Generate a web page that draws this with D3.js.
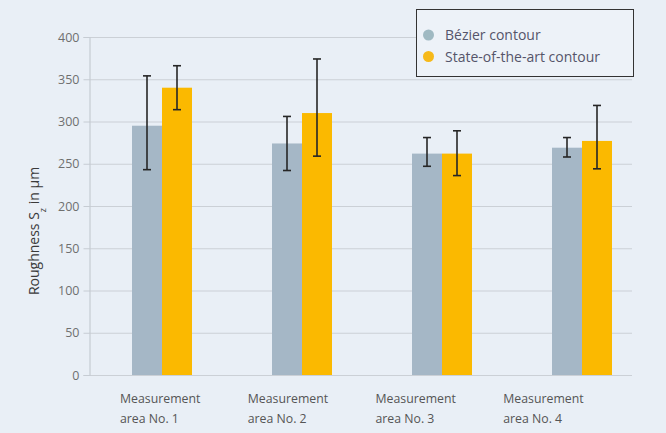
<!DOCTYPE html>
<html>
<head>
<meta charset="utf-8">
<script src="https://cdn.jsdelivr.net/npm/d3@7/dist/d3.min.js"></script>
<style>
  html, body { margin: 0; padding: 0; background: #e9eff6; }
  svg { display: block; }
  text { font-family: "Open Sans", "Noto Sans", sans-serif; }
</style>
</head>
<body>
<svg id="chart" width="666" height="433"></svg>
<script>
// Measurement areas and the two contour strategies
const categories = ["Measurement area No. 1", "Measurement area No. 2", "Measurement area No. 3", "Measurement area No. 4"];
const categoryLines = [["Measurement", "area No. 1"], ["Measurement", "area No. 2"], ["Measurement", "area No. 3"], ["Measurement", "area No. 4"]];
const seriesNames = ["Bézier contour", "State-of-the-art contour"];

// Mean roughness Sz (µm) per area
const bezierMean = [295, 274, 262, 269];
const stateMean = [340, 310, 262, 277];

// Error bar extents (lower, upper) in µm
const bezierLow = [243, 242, 247, 258];
const bezierHigh = [354, 306, 281, 281];
const stateLow = [314, 259, 236, 244];
const stateHigh = [366, 374, 289, 319];

const yTicks = [0, 50, 100, 150, 200, 250, 300, 350, 400];

const colors = ["#a5b7c6", "#fbb900"];

const svg = d3.select("#chart");

const plotLeft = 89, plotRight = 632, plotTop = 37, plotBottom = 375;

const y = d3.scaleLinear().domain([0, 400]).range([plotBottom, plotTop]);

const x0 = d3.scaleBand().domain(categories).range([92, 652])
  .paddingInner(80 / 140).paddingOuter(40 / 140);
const x1 = d3.scaleBand().domain(seriesNames).range([0, x0.bandwidth()]);

// Category labels sit on their own, tighter band scale
const xl = d3.scaleBand().domain(categories).range([120, 631]);

// Horizontal gridlines
svg.append("g")
  .selectAll("line")
  .data(yTicks)
  .join("line")
  .attr("x1", plotLeft).attr("x2", plotRight)
  .attr("y1", d => y(d) + 0.5).attr("y2", d => y(d) + 0.5)
  .attr("stroke", "#cbd0d6").attr("stroke-width", 1.2);

// Y axis with outward ticks
const yAxis = d3.axisLeft(y).tickValues(yTicks).tickSize(6).tickPadding(4);
const gy = svg.append("g").attr("transform", `translate(${plotLeft + 0.5},0)`).call(yAxis);
gy.select(".domain").attr("stroke", "#c6ccd3").attr("stroke-width", 1.2);
gy.selectAll(".tick line").attr("stroke", "#c6ccd3");
gy.selectAll(".tick text")
  .attr("fill", "#6f6f6f")
  .style("font-size", "12.5px")
  .style("font-family", "'Open Sans', sans-serif");

// Y axis title with subscript
const yTitle = svg.append("text")
  .attr("transform", "translate(39,231) rotate(-90)")
  .attr("text-anchor", "middle")
  .attr("fill", "#3a3a3a")
  .style("font-size", "14px");
yTitle.append("tspan").text("Roughness S");
yTitle.append("tspan").attr("baseline-shift", "sub").style("font-size", "9px").text("z");
yTitle.append("tspan").text(" in µm");

// Bars
const rows = categories.map((c, i) => ({
  cat: c,
  vals: [
    { s: seriesNames[0], v: bezierMean[i], lo: bezierLow[i], hi: bezierHigh[i], k: 0 },
    { s: seriesNames[1], v: stateMean[i], lo: stateLow[i], hi: stateHigh[i], k: 1 }
  ]
}));

const groups = svg.append("g").selectAll("g")
  .data(rows)
  .join("g")
  .attr("transform", d => `translate(${x0(d.cat)},0)`);

groups.selectAll("rect")
  .data(d => d.vals)
  .join("rect")
  .attr("x", d => x1(d.s))
  .attr("width", x1.bandwidth())
  .attr("y", d => y(d.v))
  .attr("height", d => y(0) - y(d.v))
  .attr("fill", d => colors[d.k]);

// Error bars
const capHalf = 4;
const eb = groups.selectAll("g.err")
  .data(d => d.vals)
  .join("g")
  .attr("class", "err")
  .attr("stroke", "#262626")
  .attr("stroke-width", 1.6);
eb.append("line")
  .attr("x1", d => x1(d.s) + x1.bandwidth() / 2).attr("x2", d => x1(d.s) + x1.bandwidth() / 2)
  .attr("y1", d => y(d.lo)).attr("y2", d => y(d.hi));
eb.append("line")
  .attr("x1", d => x1(d.s) + x1.bandwidth() / 2 - capHalf).attr("x2", d => x1(d.s) + x1.bandwidth() / 2 + capHalf)
  .attr("y1", d => y(d.hi)).attr("y2", d => y(d.hi));
eb.append("line")
  .attr("x1", d => x1(d.s) + x1.bandwidth() / 2 - capHalf).attr("x2", d => x1(d.s) + x1.bandwidth() / 2 + capHalf)
  .attr("y1", d => y(d.lo)).attr("y2", d => y(d.lo));

// Category labels, two lines, left aligned
const labels = svg.append("g").selectAll("text")
  .data(categories)
  .join("text")
  .attr("fill", "#555")
  .style("font-size", "12.3px");
labels.each(function (c, i) {
  const t = d3.select(this);
  categoryLines[i].forEach((line, j) => {
    t.append("tspan").attr("x", xl(c)).attr("y", 403 + j * 19.5).text(line);
  });
});

// Legend
const legend = svg.append("g");
legend.append("rect")
  .attr("x", 416.5).attr("y", 9.5).attr("width", 217).attr("height", 67)
  .attr("fill", "#edf2f8").attr("stroke", "#333").attr("stroke-width", 1);
const legendColors = ["#9fb9c2", "#f6b91a"];
seriesNames.forEach((s, i) => {
  legend.append("circle")
    .attr("cx", 428.5).attr("cy", 35 + i * 21.5).attr("r", 5.5)
    .attr("fill", legendColors[i]);
  legend.append("text")
    .attr("x", 445).attr("y", 40 + i * 21.5)
    .attr("fill", "#55556a")
    .style("font-size", "14px")
    .text(s);
});
</script>
</body>
</html>
